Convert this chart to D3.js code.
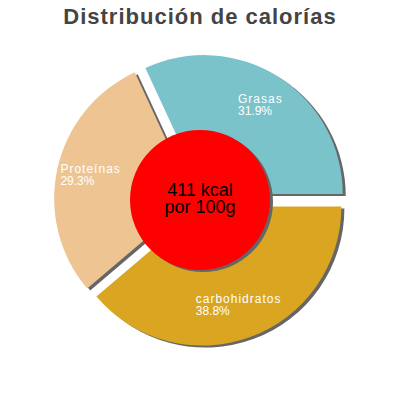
<!DOCTYPE html>
<html>
<head>
<meta charset="utf-8">
<script src="https://cdn.jsdelivr.net/npm/d3@7"></script>
<style>
  html, body { margin: 0; padding: 0; background: #fff; }
  text { font-family: "Liberation Sans", Arial, sans-serif; }
</style>
</head>
<body>
<div id="chart"></div>
<script>
const labels = ["Grasas", "Proteínas", "carbohidratos"];
const values = [31.9, 29.3, 38.8];
const colors = ["#7ac3cb", "#eec592", "#daa520"];
const title = "Distribución de calorías";
const centerLines = ["411 kcal", "por 100g"];

const dim = 400;
const cx = 200, cy = 200;
const radius = 139;
const explode = 7;
const holeRadius = 70;
const labelDist = 112;

const svg = d3.select("#chart")
  .append("svg")
  .attr("width", dim)
  .attr("height", dim)
  .attr("viewBox", `0 0 ${dim} ${dim}`);

svg.append("text")
  .attr("x", cx)
  .attr("y", 24)
  .attr("text-anchor", "middle")
  .attr("font-size", 22)
  .attr("font-weight", "bold")
  .attr("letter-spacing", 1)
  .attr("fill", "#444")
  .text(title);

const data = labels.map((l, i) => ({ label: l, value: values[i], color: colors[i] }));

// counterclockwise from 3 o'clock
const pie = d3.pie()
  .value(d => d.value)
  .sort(null)
  .startAngle(Math.PI / 2)
  .endAngle(Math.PI / 2 - 2 * Math.PI);

const arc = d3.arc().innerRadius(0).outerRadius(radius);
const arcs = pie(data);

function mid(d) { return (d.startAngle + d.endAngle) / 2; }
function offset(d, r) {
  const a = mid(d);
  return [r * Math.sin(a), -r * Math.cos(a)];
}

const g = svg.append("g").attr("transform", `translate(${cx},${cy})`);

// shadows first
g.selectAll("path.shadow")
  .data(arcs)
  .enter()
  .append("path")
  .attr("class", "shadow")
  .attr("d", arc)
  .attr("fill", "#666")
  .attr("transform", d => {
    const [ox, oy] = offset(d, explode);
    return `translate(${ox + 3},${oy + 2})`;
  });

g.selectAll("path.slice")
  .data(arcs)
  .enter()
  .append("path")
  .attr("class", "slice")
  .attr("d", arc)
  .attr("fill", d => d.data.color)
  .attr("transform", d => {
    const [ox, oy] = offset(d, explode);
    return `translate(${ox},${oy})`;
  });

// center
g.append("circle").attr("cx", 3).attr("cy", 2).attr("r", holeRadius).attr("fill", "#666");
g.append("circle").attr("r", holeRadius).attr("fill", "#ff0000");

centerLines.forEach((t, i) => {
  g.append("text")
    .attr("x", 0)
    .attr("y", -4 + i * 17)
    .attr("text-anchor", "middle")
    .attr("font-size", 18)
    .attr("fill", "#000")
    .text(t);
});

// labels
arcs.forEach(d => {
  const [px, py] = offset(d, labelDist);
  const t = g.append("text")
    .attr("font-size", 12)
    .attr("fill", "#fff");
  const name = t.append("tspan")
    .attr("y", py - 2.5)
    .attr("letter-spacing", 1)
    .text(d.data.label);
  const pct = t.append("tspan")
    .attr("y", py + 9.5)
    .text(d.data.value.toFixed(1) + "%");
  const w = Math.max(name.node().getComputedTextLength(), pct.node().getComputedTextLength());
  name.attr("x", px - w / 2);
  pct.attr("x", px - w / 2);
});
</script>
</body>
</html>
